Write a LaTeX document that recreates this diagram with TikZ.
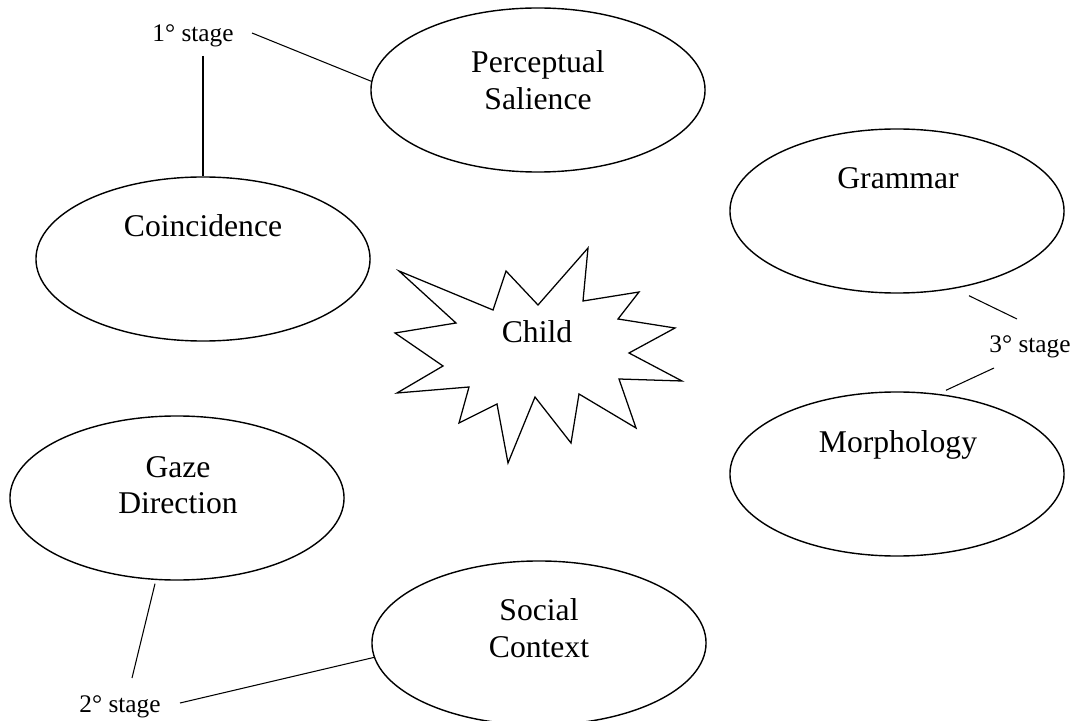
\documentclass[tikz,border=0pt]{standalone}
\usepackage{fontspec}
\setmainfont{Liberation Serif}
\usetikzlibrary{shapes.geometric}
\begin{document}
\begin{tikzpicture}[x=0.025cm, y=-0.025cm,
  bubble/.style={draw, line width=1pt, ellipse, minimum width=8.35cm, minimum height=4.1cm, inner sep=0pt},
  word/.style={font=\fontsize{22.5}{26}\selectfont, align=center, inner sep=0pt},
  stagetext/.style={font=\fontsize{18}{20}\selectfont, inner sep=0pt, anchor=base},
  link/.style={line width=0.75pt}]
\useasboundingbox (0,0) rectangle (1079,721);
% the six ellipses
\node[bubble] (perc) at (538,90) {};
\node[bubble] (coin) at (203,259) {};
\node[bubble] (gram) at (897,211) {};
\node[bubble] (morph) at (897,474) {};
\node[bubble] (gaze) at (177,498) {};
\node[bubble] (soc) at (539,643) {};
\node[word] at (538,80) {Perceptual\\Salience};
\node[word, anchor=base] at (203,237) {Coincidence};
\node[word, anchor=base] at (898,189) {Grammar};
\node[word, anchor=base] at (898,452) {Morphology};
\node[word] at (178,485) {Gaze\\Direction};
\node[word] at (539,628) {Social\\Context};
% the child in the middle
\draw[line width=0.9pt] plot coordinates {(399,271) (493,310) (506,271) (538,305) (588,248) (583,301)
  (639,292) (618,319) (675,328) (629,353) (682,381) (619,379) (636,428) (579,394) (571,443) (535,397)
  (508,463) (497,404) (459,423) (469,387) (397,393) (443,366) (395,333) (456,323)} -- cycle;
\node[word, anchor=base] (child) at (537,343) {Child};
% stages
\node[stagetext] (s1) at (193,42) {1° stage};
\node[stagetext] (s2) at (120,712) {2° stage};
\node[stagetext] (s3) at (1030,353) {3° stage};
\draw[link] ([shift={(59,-9)}]s1.base) -- (perc.177);
\draw[link] ([shift={(10,14)}]s1.base) -- (coin.north);
\draw[link] ([shift={(-22,3)}]gaze.south) -- ([shift={(12,-34)}]s2.base);
\draw[link] ([shift={(60,-9)}]s2.base) -- (soc.185);
\draw[link] ([shift={(72,2)}]gram.south) -- ([shift={(-13,-34)}]s3.base);
\draw[link] ([shift={(-36,15)}]s3.base) -- ([shift={(49,-1)}]morph.north);
\end{tikzpicture}
\end{document}
